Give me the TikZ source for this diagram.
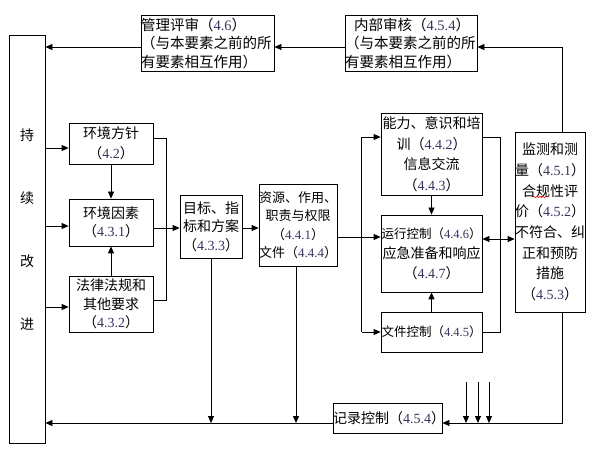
\documentclass[tikz,border=0pt]{standalone}
\usepackage{fontspec}
\setmainfont{Noto Sans CJK SC}
\newfontfamily\dgfont{Liberation Serif}
\usetikzlibrary{arrows.meta,calc,decorations.pathmorphing}
\definecolor{numcol}{HTML}{3F3060}
\newcommand\dg[1]{{\dgfont\color{numcol}#1}}
\begin{document}
\begin{tikzpicture}[x=1pt,y=-1pt,
  box/.style={draw,line width=0.8pt,inner sep=0pt,align=center},
  fs/.style={font=\fontsize{14}{#1}\selectfont},
  arr/.style={line width=0.8pt,-{Triangle[length=7pt,width=6pt]}},
  darr/.style={line width=0.8pt,{Triangle[length=7pt,width=6pt]}-{Triangle[length=7pt,width=6pt]}},
  ln/.style={line width=0.8pt}]
\useasboundingbox (0,0) rectangle (592,449);
\fill[white] (0,0) rectangle (592,449);
% boxes
\node[box,minimum width=36,minimum height=408] (L) at (27,239) {};
\node[fs=63,align=center,inner sep=0pt] (Ltxt) at (27,230) {持\\续\\改\\进};
\node[box,font=\fontsize{14.5}{18.5}\selectfont,align=left,text width=133,minimum height=56] (MR) at (207.5,43) {管理评审（\dg{4.6}）\\（与本要素之前的所\\有要素相互作用）};
\node[box,font=\fontsize{14.5}{18.5}\selectfont,align=left,text width=132,minimum height=56] (IA) at (411,43) {\hspace*{9pt}内部审核（\dg{4.5.4}）\\（与本要素之前的所\\有要素相互作用）};
\node[box,fs=20,text width=84,minimum height=41] (EP) at (111,143.5) {环境方针\\（\dg{4.2}）};
\node[box,fs=18,text width=84,minimum height=47] (EA) at (111,222.5) {环境因素\\（\dg{4.3.1}）};
\node[box,fs=18.5,text width=84,minimum height=56] (LR) at (111,304) {法律法规和\\其他要求\\（\dg{4.3.2}）};
\node[box,fs=18.5,text width=62,minimum height=63] (OT) at (211,226.5) {目标、指\\标和方案\\（\dg{4.3.3}）};
\node[box,font=\fontsize{13}{18.5}\selectfont,text width=78,minimum height=82] (RS) at (298,225) {资源、作用、\\职责与权限\\（\dg{4.4.1}）\\文件（\dg{4.4.4}）};
\node[box,fs=20.5,text width=101,minimum height=82] (CA) at (431.5,154) {能力、意识和培\\训（\dg{4.4.2}）\\信息交流\\（\dg{4.4.3}）};
\node[box,fs=20,text width=101,minimum height=77] (OC) at (431.5,253.5) {{\fontsize{12.5}{20}\selectfont 运行控制（\dg{4.4.6}）}\\应急准备和响应\\（\dg{4.4.7}）};
\node[box,font=\fontsize{12.5}{20}\selectfont,text width=101,minimum height=40] (DC) at (431.5,332) {文件控制（\dg{4.4.5}）};
\node[box,fs=20.7,text width=70,minimum height=180] (MM) at (550,222) {监测和测\\量（\dg{4.5.1}）\\合规性评\\价（\dg{4.5.2}）\\不符合、纠\\正和预防\\措施\\（\dg{4.5.3}）};
\node[box,fs=20,text width=109,minimum height=30] (RC) at (387.5,418) {记录控制（\dg{4.5.4}）};
% helper coordinates
\path ($(MR.west)+(0,4)$) coordinate (mrw)
      ($(IA.west)+(0,4)$) coordinate (iaw)
      ($(IA.east)+(0,4)$) coordinate (iae)
      ($(MM.north)+(12,0)$) coordinate (mmn)
      ($(MM.south)+(12,0)$) coordinate (mms)
      ($(EP.west)+(0,4.5)$) coordinate (epw)
      ($(EA.west)+(0,3.5)$) coordinate (eaw)
      ($(LR.west)+(0,3)$) coordinate (lrw)
      ($(EP.east)+(0,-5.5)$) coordinate (epe)
      ($(EP.east)+(13,0)$) coordinate (bx)
      ($(LR.east)+(0,-4)$) coordinate (lre)
      ($(EA.east)+(0,5.5)$) coordinate (eae)
      ($(OT.east)+(0,1.5)$) coordinate (ote)
      ($(RS.east)+(0,12)$) coordinate (rse)
      ($(CA.west)+(-19,-17)$) coordinate (cav)
      ($(CA.west)+(0,-17)$) coordinate (caw)
      ($(CA.east)+(0,-17)$) coordinate (cae)
      ($(CA.east)+(18,-17)$) coordinate (cab)
      ($(OC.east)+(0,-14.5)$) coordinate (oce)
      ($(RC.west)+(0,5)$) coordinate (rcw)
      ($(RC.east)+(0,5)$) coordinate (rce)
      ($(RS.south)+(-2,0)$) coordinate (rss)
      (466,382) coordinate (d1)
      (478,382) coordinate (d2)
      (489,382) coordinate (d3);
% connectors
\draw[arr] (mrw) -- (mrw -| L.east);
\draw[arr] (iaw) -- (iaw -| MR.east);
\draw[arr] (mmn) |- (iae);
\draw[arr] (epw -| L.east) -- (epw);
\draw[arr] (eaw -| L.east) -- (eaw);
\draw[arr] (lrw -| L.east) -- (lrw);
\draw[arr] (EP.south) -- (EA.north);
\draw[arr] (LR.north) -- (EA.south);
\draw[ln] (epe) -- (epe -| bx) -- (lre -| bx) -- (lre);
\draw[arr] (eae) -- (eae -| OT.west);
\draw[arr] (ote) -- (ote -| RS.west);
\draw[arr] (rse) -- (rse -| OC.west);
\draw[ln] (cav) -- (cav |- DC.west);
\draw[arr] (cav) -- (caw);
\draw[arr] (cav |- DC.west) -- (DC.west);
\draw[arr] (CA.south) -- (OC.north);
\draw[arr] (DC.north) -- (OC.south);
\draw[ln] (cae) -- (cab) -- (cab |- DC.east) -- (DC.east);
\draw[darr] (oce) -- (oce -| MM.west);
\draw[arr] (rcw) -- (rcw -| L.east);
\draw[arr] (OT.south) -- (OT.south |- rcw);
\draw[arr] (rss) -- (rss |- rcw);
\draw[arr] (mms) |- (rce);
\draw[arr] (d1) -- (d1 |- rce);
\draw[arr] (d2) -- (d2 |- rce);
\draw[arr] (d3) -- (d3 |- rce);
% spell-check wave
\draw[red,line width=0.5pt,decorate,decoration={snake,amplitude=0.7pt,segment length=3pt}] (533,197) -- (548,197);
\end{tikzpicture}
\end{document}
